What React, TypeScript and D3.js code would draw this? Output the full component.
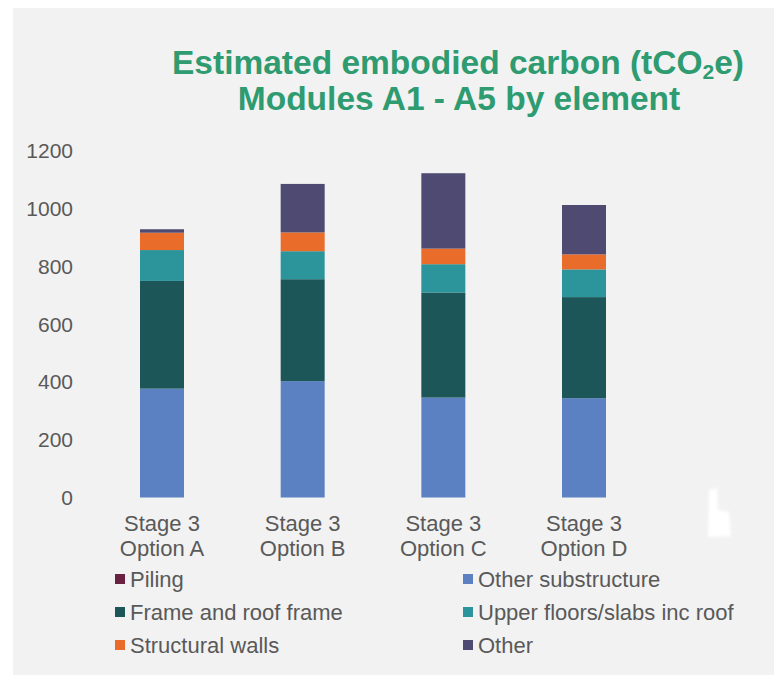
import React from "react";
import * as d3 from "d3";

const categories = ["Stage 3|Option A", "Stage 3|Option B", "Stage 3|Option C", "Stage 3|Option D"];
const seriesNames = [
  "Piling",
  "Other substructure",
  "Frame and roof frame",
  "Upper floors/slabs inc roof",
  "Structural walls",
  "Other",
];
const seriesColors = ["#6b2142", "#5b81c2", "#1d5658", "#2c959c", "#ea6c2a", "#4e4a72"];
const piling = [0, 0, 0, 0];
const otherSubstructure = [377, 403, 346, 344];
const frameAndRoof = [373, 353, 364, 350];
const upperFloors = [107, 97, 98, 96];
const structuralWalls = [60, 65, 54, 52];
const other = [12, 168, 261, 171];
const yTicks = [0, 200, 400, 600, 800, 1000, 1200];

const seriesValues = [piling, otherSubstructure, frameAndRoof, upperFloors, structuralWalls, other];

const FONT = "'Liberation Sans', Arial, sans-serif";

export default function App() {
  const W = 774;
  const H = 675;
  const y = d3.scaleLinear().domain([0, 1200]).range([497.5, 151]);
  const x = d3.scalePoint<string>().domain(categories).range([162, 584]);
  const barW = 44;

  const rows = categories.map((c, i) => {
    const r: Record<string, number | string> = { cat: c };
    seriesNames.forEach((s, k) => (r[s] = seriesValues[k][i]));
    return r;
  });
  const stack = d3.stack<any>().keys(seriesNames)(rows);

  const legendItems = [
    { name: seriesNames[0], col: 0, row: 0, k: 0 },
    { name: seriesNames[1], col: 1, row: 0, k: 1 },
    { name: seriesNames[2], col: 0, row: 1, k: 2 },
    { name: seriesNames[3], col: 1, row: 1, k: 3 },
    { name: seriesNames[4], col: 0, row: 2, k: 4 },
    { name: seriesNames[5], col: 1, row: 2, k: 5 },
  ];
  const legendColX = [115, 463];
  const legendRowY = [579, 612, 645];

  return (
    <svg
      width={W}
      height={H}
      style={{ position: "absolute", left: 0, top: 0, display: "block" }}
      fontFamily={FONT}
    >
      <defs>
        <filter id="soft" x="-50%" y="-50%" width="200%" height="200%">
          <feGaussianBlur stdDeviation="1.5" />
        </filter>
      </defs>
      <rect x={0} y={0} width={W} height={H} fill="#ffffff" />
      <rect x={13} y={8} width={W - 13} height={H - 8} fill="#f2f2f2" />

      <text
        x={458}
        y={74}
        textAnchor="middle"
        fontSize={33.5}
        fontWeight="bold"
        fill="#2e9b70"
      >
        Estimated embodied carbon (tCO
        <tspan fontSize={21} dy={5}>2</tspan>
        <tspan dy={-5}>e)</tspan>
      </text>
      <text
        x={459}
        y={110}
        textAnchor="middle"
        fontSize={33.5}
        fontWeight="bold"
        fill="#2e9b70"
      >
        Modules A1 - A5 by element
      </text>

      {yTicks.map((t) => (
        <text
          key={t}
          x={73}
          y={y(t)}
          dy="0.35em"
          textAnchor="end"
          fontSize={21}
          fill="#595959"
        >
          {t}
        </text>
      ))}

      {stack.map((layer, k) => (
        <g key={layer.key} fill={seriesColors[k]}>
          {layer.map((d, i) => {
            const h = y(d[0]) - y(d[1]);
            if (h <= 0) return null;
            return (
              <rect
                key={i}
                x={(x(categories[i]) as number) - barW / 2}
                y={y(d[1])}
                width={barW}
                height={h}
              />
            );
          })}
        </g>
      ))}

      {categories.map((c) => {
        const [l1, l2] = c.split("|");
        const cx = x(c) as number;
        return (
          <g key={c} fontSize={22} fill="#595959" textAnchor="middle">
            <text x={cx} y={531}>{l1}</text>
            <text x={cx} y={556}>{l2}</text>
          </g>
        );
      })}

      {legendItems.map((it) => {
        const lx = legendColX[it.col];
        const ly = legendRowY[it.row];
        return (
          <g key={it.name}>
            <rect x={lx} y={ly - 5} width={10} height={10} fill={seriesColors[it.k]} />
            <text x={lx + 15} y={ly} dy="0.35em" fontSize={22} fill="#595959">
              {it.name}
            </text>
          </g>
        );
      })}

      <path
        d="M709,490 L717,488 L718,510 L729,512 L731,536 L708,537 Z"
        fill="#ffffff"
        filter="url(#soft)"
      />
    </svg>
  );
}
